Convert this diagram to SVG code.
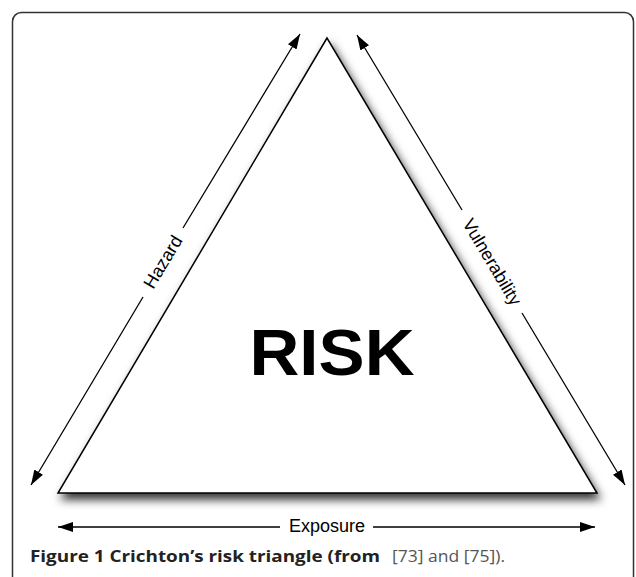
<svg xmlns="http://www.w3.org/2000/svg" width="636" height="577" viewBox="0 0 636 577">
  <defs>
    <filter id="shadow" x="-20%" y="-20%" width="140%" height="140%">
      <feDropShadow dx="3" dy="6" stdDeviation="5" flood-color="#000" flood-opacity="0.8"/>
    </filter>
    <marker id="arrow" markerUnits="userSpaceOnUse" markerWidth="16" markerHeight="12" viewBox="0 0 16 12" refX="15" refY="6" orient="auto">
      <path d="M0,1 L15,6 L0,11 Z" fill="#000"/>
    </marker>
  </defs>
  <style>
    .conn { stroke: #000; stroke-width: 1.3; fill: none; }
    .lbl { font-family: "Liberation Sans", Arial, sans-serif; font-size: 18px; fill: #000; text-anchor: middle; dominant-baseline: central; }
    .cap { font-family: "Open Sans", "Liberation Sans", sans-serif; font-size: 16px; }
  </style>
  <rect width="636" height="577" fill="#fff"/>
  <rect x="12.5" y="12.5" width="621" height="620" rx="9" fill="none" stroke="#333" stroke-width="1.5"/>

  <g id="triangle">
    <polygon points="327,38 58,493 597,493" fill="#fff" stroke="#000" stroke-width="1.5" filter="url(#shadow)"/>
    <text x="332" y="375" font-family="Liberation Sans, Arial, sans-serif" font-weight="bold" font-size="64" text-anchor="middle" textLength="165" lengthAdjust="spacingAndGlyphs">RISK</text>
  </g>

  <g id="connectors">
    <path class="conn" d="M183,228 L300,34" marker-end="url(#arrow)"/>
    <path class="conn" d="M143,297 L31,485" marker-end="url(#arrow)"/>
    <path class="conn" d="M462,210 L357,35" marker-end="url(#arrow)"/>
    <path class="conn" d="M522,313 L625,485" marker-end="url(#arrow)"/>
    <path class="conn" d="M280,527 L58,527" marker-end="url(#arrow)"/>
    <path class="conn" d="M373,527 L595,527" marker-end="url(#arrow)"/>
  </g>

  <g id="hazard">
    <text class="lbl" transform="translate(163,262) rotate(-59.2)">Hazard</text>
  </g>
  <g id="vulnerability">
    <text class="lbl" transform="translate(492,262) rotate(59.2)">Vulnerability</text>
  </g>
  <g id="exposure">
    <text class="lbl" x="327" y="526">Exposure</text>
  </g>

  <g id="caption">
    <text class="cap" x="30" y="562" font-weight="bold" fill="#222" textLength="350" lengthAdjust="spacingAndGlyphs">Figure 1 Crichton’s risk triangle (from</text>
    <text class="cap" x="392" y="562" fill="#555" textLength="113" lengthAdjust="spacingAndGlyphs">[73] and [75]).</text>
  </g>
</svg>
